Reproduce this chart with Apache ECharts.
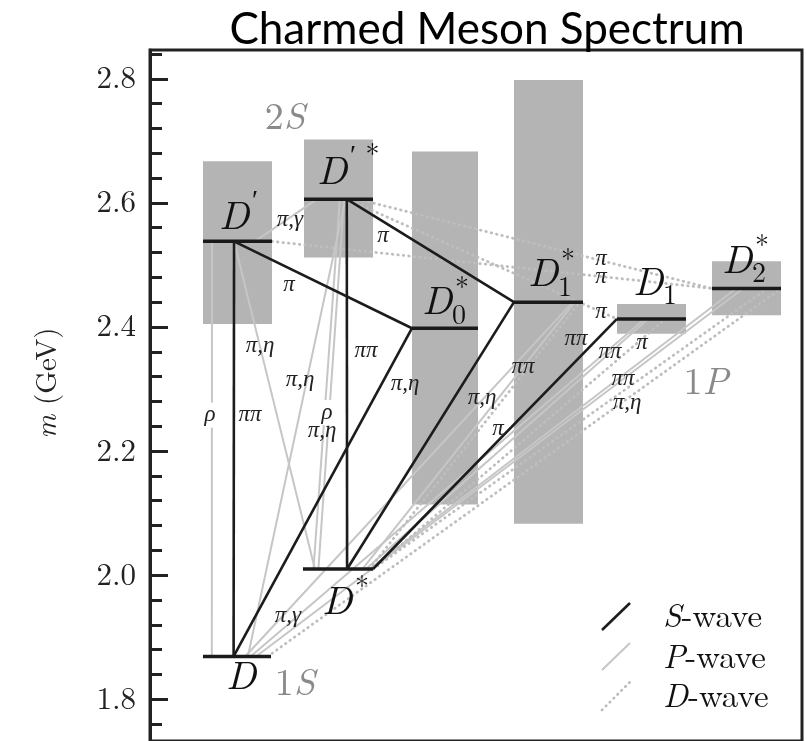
<!DOCTYPE html>
<html><head><meta charset="utf-8">
<script src="https://cdn.jsdelivr.net/npm/echarts@6/dist/echarts.min.js"></script>
<style>html,body{margin:0;padding:0;background:#fff}#c{width:807px;height:741px}</style>
</head><body><div id="c"></div>
<script>
// ---- data ----
// states: D, D*, D', D'*, D0*, D1*, D1, D2*
const stateMain  = ['D','D','D','D','D','D','D','D'];
const stateSub   = ['', '', '', '', '0', '1', '1', '2'];
const stateSup   = ['', '*', '\u2032', '\u2032 *', '*', '*', '', '*'];
const stateMass  = [1.869, 2.010, 2.538, 2.606, 2.398, 2.440, 2.413, 2.462];
const stateXLeft = [5.3, 15.3, 5.3, 15.4, 26.2, 36.4, 46.7, 56.2];
const stateXRight= [12.1, 22.3, 12.2, 22.3, 32.8, 43.3, 53.6, 63.1];
const boxLow  = [null, null, 2.405, 2.512, 2.114, 2.083, 2.389, 2.419];
const boxHigh = [null, null, 2.667, 2.702, 2.683, 2.798, 2.437, 2.506];
const labelX  = [9.1, 18.7, 8.4, 18.2, 28.7, 39.3, 49.8, 58.7];
const labelM  = [1.837, 1.957, 2.578, 2.650, 2.440, 2.485, 2.472, 2.507];

// transitions: [fromState, fromFraction, toState, toFraction]
const sWave = [[2,0.45,0,0.45],[3,0.62,1,0.63],[2,0.45,4,0],[3,0.62,5,0],[4,0,0,0.45],[5,0,1,0.63],[6,0,1,1.0]];
const pWave = [[2,0.75,3,0.19],[2,0.13,0,0.13],[2,0.45,1,0.17],[3,0.60,0,0.66],[3,0.52,1,0.15],[3,0.58,1,0.22],
               [0,0.62,5,0.85],[0,0.70,6,0.40],[0,0.78,7,0.45],[1,0.85,5,0.88],[1,0.90,6,0.45],[1,0.95,7,0.35]];
const dWave = [[2,1.0,7,0.02],[3,0.78,7,0.0],[3,0.62,6,0.0],[0,0.95,7,1.0],[1,0.95,5,0.95],[1,1.0,6,0.7],[1,1.0,7,0.8]];

// channel labels
const chanText = ['\u03c0,\u03b3','\u03c0','\u03c0','\u03c0,\u03b7','\u03c0\u03c0','\u03c0,\u03b7','\u03c0,\u03b7','\u03c1','\u03c0\u03c0','\u03c1','\u03c0,\u03b7',
                  '\u03c0,\u03b7','\u03c0','\u03c0,\u03b3','\u03c0','\u03c0','\u03c0','\u03c0\u03c0','\u03c0\u03c0','\u03c0','\u03c0\u03c0','\u03c0\u03c0','\u03c0,\u03b7'];
const chanX = [14.0,23.3,13.9,11.0,21.6,15.0,25.5,6.0,10.0,17.7,17.2,33.2,34.8,13.8,45.1,45.1,45.1,42.6,46.0,49.2,37.3,47.3,47.7];
const chanM = [2.573,2.546,2.467,2.370,2.362,2.315,2.309,2.258,2.258,2.262,2.232,2.286,2.235,1.934,2.509,2.480,2.424,2.381,2.360,2.374,2.336,2.317,2.277];

// multiplet labels
const multNum = ['2','1','1'];
const multL   = ['S','S','P'];
const multX   = [13.5, 14.5, 55.6];
const multM   = [2.738, 1.826, 2.310];

const yMajorTicks = [1.8, 2.0, 2.2, 2.4, 2.6, 2.8];
const yMinorTicks = [1.76,1.80,1.84,1.88,1.92,1.96,2.00,2.04,2.08,2.12,2.16,2.20,2.24,2.28,2.32,2.36,2.40,2.44,2.48,2.52,2.56,2.60,2.64,2.68,2.72,2.76,2.80,2.84];

// ---- helpers ----
const LM = 'Latin Modern Roman';
const GREEK = 'Liberation Serif';
function sx(i, f) { return stateXLeft[i] + f * (stateXRight[i] - stateXLeft[i]); }
function toSeg(t) { return [sx(t[0], t[1]), stateMass[t[0]], sx(t[2], t[3]), stateMass[t[2]]]; }

function lineSeries(list, style, z) {
  return {
    type: 'custom', z: z, clip: false, silent: true,
    data: list.map(toSeg),
    encode: { x: [0, 2], y: [1, 3] },
    renderItem: function (params, api) {
      const a = api.coord([api.value(0), api.value(1)]);
      const b = api.coord([api.value(2), api.value(3)]);
      return { type: 'line', shape: { x1: a[0], y1: a[1], x2: b[0], y2: b[1] }, style: style };
    }
  };
}

const boxData = [];
stateMass.forEach((m, i) => { if (boxLow[i] !== null) { boxData.push([stateXLeft[i], stateXRight[i], boxLow[i], boxHigh[i]]); } });

function txt(x, y, text, size, italic, fill, align) {
  return { type: 'text', x: x, y: y, style: { text: text, fontFamily: LM, fontSize: size, fontStyle: italic ? 'italic' : 'normal', fill: fill || '#111', align: align || 'center', verticalAlign: 'middle' } };
}

const chart = echarts.init(document.getElementById('c'));
const option = {
  animation: false,
  backgroundColor: '#fff',
  grid: { left: 150, right: 5, top: 50, bottom: -5, show: true, borderColor: '#222', borderWidth: 3, backgroundColor: 'transparent' },
  xAxis: { type: 'value', min: 0, max: 65.2, show: false },
  yAxis: [
    { type: 'value', min: 1.7328, max: 2.8464, position: 'left',
      axisLine: { show: true, lineStyle: { color: '#222', width: 3 } },
      axisTick: { show: true, inside: true, length: 18, lineStyle: { color: '#222', width: 3 }, customValues: yMajorTicks },
      axisLabel: { show: true, customValues: yMajorTicks, formatter: v => v.toFixed(1), fontFamily: LM, fontSize: 31, color: '#222', margin: 14 },
      splitLine: { show: false } },
    { type: 'value', min: 1.7328, max: 2.8464, position: 'left', offset: 0,
      axisLine: { show: false },
      axisTick: { show: true, inside: true, length: 12, lineStyle: { color: '#222', width: 3 }, customValues: yMinorTicks },
      axisLabel: { show: false }, splitLine: { show: false } }
  ],
  series: [
    { type: 'custom', z: 1, clip: false, silent: true, data: boxData, encode: { x: [0, 1], y: [2, 3] },
      renderItem: function (params, api) {
        const a = api.coord([api.value(0), api.value(3)]);
        const b = api.coord([api.value(1), api.value(2)]);
        return { type: 'rect', shape: { x: a[0], y: a[1], width: b[0] - a[0], height: b[1] - a[1] }, style: { fill: '#b4b4b4' } };
      } },
    lineSeries(pWave, { stroke: '#c6c6c6', lineWidth: 2 }, 2),
    lineSeries(dWave, { stroke: '#bebebe', lineWidth: 2.8, lineDash: [0.5, 5], lineCap: 'round' }, 2),
    lineSeries(sWave, { stroke: '#1c1c1c', lineWidth: 2.6 }, 3),
    { type: 'custom', z: 4, clip: false, silent: true,
      data: stateMass.map((m, i) => [stateXLeft[i], stateXRight[i], m]), encode: { x: [0, 1], y: 2 },
      renderItem: function (params, api) {
        const a = api.coord([api.value(0), api.value(2)]);
        const b = api.coord([api.value(1), api.value(2)]);
        return { type: 'line', shape: { x1: a[0], y1: a[1], x2: b[0], y2: b[1] }, style: { stroke: '#1a1a1a', lineWidth: 3.5 } };
      } },
    { type: 'custom', z: 5, clip: false, silent: true,
      data: labelX.map((x, i) => [x, labelM[i]]), encode: { x: 0, y: 1 },
      renderItem: function (params, api) {
        const i = params.dataIndex;
        const p = api.coord([api.value(0), api.value(1)]);
        const ch = [txt(p[0], p[1], stateMain[i], 40, true)];
        if (stateSub[i]) ch.push(txt(p[0] + 15, p[1] + 13, stateSub[i], 28, false, '#111', 'left'));
        if (stateSup[i]) ch.push(txt(p[0] + 18, p[1] - (stateSup[i] === '*' ? 14 : 16), stateSup[i], 28, false, '#111', 'left'));
        return { type: 'group', children: ch };
      } },
    { type: 'custom', z: 6, clip: false, silent: true,
      data: chanX.map((x, i) => [x, chanM[i]]), encode: { x: 0, y: 1 },
      renderItem: function (params, api) {
        const i = params.dataIndex;
        const p = api.coord([api.value(0), api.value(1)]);
        const t = chanText[i];
        const bg = (t === '\u03c1');
        return { type: 'text', x: p[0], y: p[1], style: { text: t, fontFamily: GREEK, fontSize: 23, fontStyle: 'italic', fill: '#222', align: 'center', verticalAlign: 'middle',
          backgroundColor: bg ? '#fff' : null, padding: bg ? [1, 1] : 0 } };
      } },
    { type: 'custom', z: 6, clip: false, silent: true,
      data: multX.map((x, i) => [x, multM[i]]), encode: { x: 0, y: 1 },
      renderItem: function (params, api) {
        const i = params.dataIndex;
        const p = api.coord([api.value(0), api.value(1)]);
        return { type: 'text', x: p[0], y: p[1], style: { text: '{n|' + multNum[i] + '}{l|' + multL[i] + '}', align: 'center', verticalAlign: 'middle',
          rich: { n: { fontFamily: LM, fontSize: 38, fill: '#8a8a8a' }, l: { fontFamily: LM, fontSize: 38, fontStyle: 'italic', fill: '#8a8a8a' } } } };
      } }
  ],
  graphic: [
    { type: 'text', x: 487, y: 30, style: { text: 'Charmed Meson Spectrum', fontFamily: 'Lato', fontSize: 44, fill: '#000', align: 'center', verticalAlign: 'middle' } },
    { type: 'text', x: 47, y: 383, rotation: Math.PI / 2, style: { text: '{i|m}{r| (GeV)}', align: 'center', verticalAlign: 'middle',
      rich: { i: { fontFamily: LM, fontSize: 29, fontStyle: 'italic', fill: '#222' }, r: { fontFamily: LM, fontSize: 29, fill: '#222' } } } },
    { type: 'line', shape: { x1: 602, y1: 630, x2: 630, y2: 603 }, style: { stroke: '#1c1c1c', lineWidth: 2.6 } },
    { type: 'line', shape: { x1: 602, y1: 670, x2: 630, y2: 643 }, style: { stroke: '#c6c6c6', lineWidth: 2 } },
    { type: 'line', shape: { x1: 602, y1: 710, x2: 630, y2: 682 }, style: { stroke: '#bebebe', lineWidth: 2.8, lineDash: [0.5, 5], lineCap: 'round' } },
    { type: 'text', x: 663, y: 617, style: { text: '{i|S}{r|-wave}', verticalAlign: 'middle', rich: { i: { fontFamily: LM, fontSize: 33, fontStyle: 'italic', fill: '#111' }, r: { fontFamily: LM, fontSize: 33, fill: '#111' } } } },
    { type: 'text', x: 663, y: 658, style: { text: '{i|P}{r|-wave}', verticalAlign: 'middle', rich: { i: { fontFamily: LM, fontSize: 33, fontStyle: 'italic', fill: '#111' }, r: { fontFamily: LM, fontSize: 33, fill: '#111' } } } },
    { type: 'text', x: 663, y: 697, style: { text: '{i|D}{r|-wave}', verticalAlign: 'middle', rich: { i: { fontFamily: LM, fontSize: 33, fontStyle: 'italic', fill: '#111' }, r: { fontFamily: LM, fontSize: 33, fill: '#111' } } } }
  ]
};
chart.setOption(option);
</script>
</body></html>
